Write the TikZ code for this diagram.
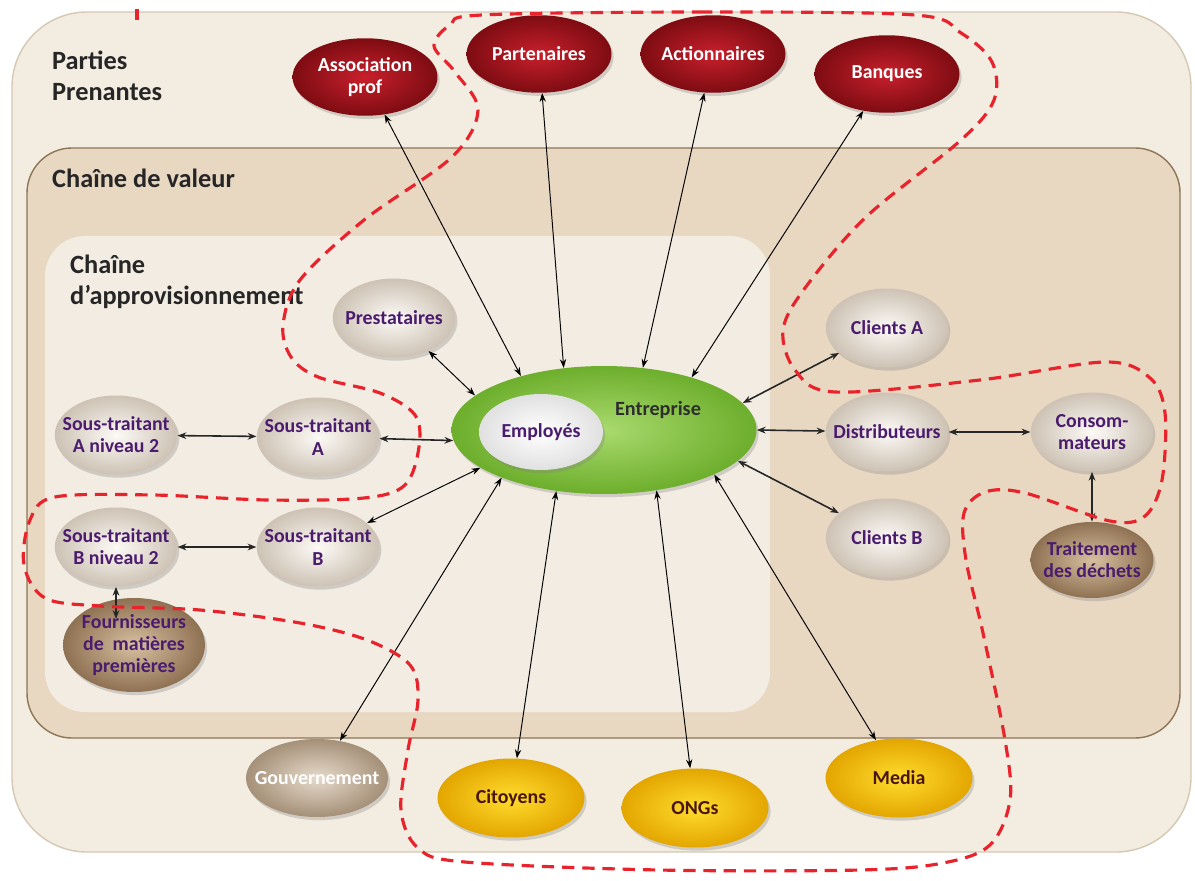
\documentclass[tikz,border=0pt]{standalone}
\usepackage{fontspec}
\setmainfont{Carlito}
\usetikzlibrary{arrows.meta,shapes.geometric,shadows,calc}
\definecolor{outerfill}{HTML}{F2ECE1}
\definecolor{outerdraw}{HTML}{D6C8B3}
\definecolor{vcfill}{HTML}{E8D8C2}
\definecolor{vcdraw}{HTML}{8E7556}
\definecolor{scfill}{HTML}{F2ECE2}
\definecolor{dashred}{HTML}{E8232B}
\definecolor{purp}{HTML}{4B1C6E}
\definecolor{redin}{HTML}{C8202C}
\definecolor{redout}{HTML}{7E0C12}
\definecolor{bgin}{HTML}{FCFAF6}
\definecolor{bgout}{HTML}{CDC2B4}
\definecolor{brin}{HTML}{D6BF9F}
\definecolor{brout}{HTML}{8E7152}
\definecolor{goin}{HTML}{E6DACB}
\definecolor{goout}{HTML}{A59078}
\definecolor{yein}{HTML}{FFDC2E}
\definecolor{yeout}{HTML}{E3A600}
\definecolor{yetext}{HTML}{4A160C}
\definecolor{grin}{HTML}{A9DA6E}
\definecolor{grout}{HTML}{6DAE2C}
\definecolor{enttext}{HTML}{2E2E2E}
\tikzset{
  base/.style={ellipse, inner sep=0pt, draw=none,
    drop shadow={opacity=0.3, shadow xshift=1.2pt, shadow yshift=-1.8pt}},
  redn/.style={base, inner color=redin, outer color=redout,
    minimum width=2.9cm, minimum height=1.55cm},
  beige/.style={base, inner color=bgin, outer color=bgout,
    minimum width=2.45cm, minimum height=1.58cm},
  brown/.style={base, inner color=brin, outer color=brout},
  gov/.style={base, inner color=goin, outer color=goout,
    minimum width=2.84cm, minimum height=1.56cm},
  yel/.style={base, inner color=yein, outer color=yeout,
    minimum width=2.94cm, minimum height=1.58cm},
  nfont/.style={font=\fontsize{11.3}{12.6}\selectfont\bfseries, align=center},
  lw/.style={nfont, text=white},
  lp/.style={nfont, text=purp},
  ly/.style={nfont, text=yetext},
  head/.style={font=\fontsize{15}{18}\selectfont\bfseries, text=black!85, align=left, anchor=west},
  dbl/.style={{Stealth[length=5pt,width=3.6pt]}-{Stealth[length=5pt,width=3.6pt]}, line width=0.55pt, black},
  dblt/.style={{Stealth[length=5pt,width=3.8pt]}-{Stealth[length=5pt,width=3.8pt]}, line width=0.9pt, black!85},
  reddash/.style={draw=dashred, line width=1.8pt, dash pattern=on 7pt off 4.5pt},
}
\begin{document}
\begin{tikzpicture}[x=0.02cm, y=-0.02cm]
\useasboundingbox (0,0) rectangle (1195,881);
% boxes
\draw[fill=outerfill, draw=outerdraw, line width=0.8pt, rounded corners=1.5cm] (12,12) rectangle (1191,852);
\draw[fill=vcfill, draw=vcdraw, line width=0.8pt, rounded corners=0.9cm] (27,148) rectangle (1180,738);
\fill[scfill, rounded corners=0.8cm] (45,236) rectangle (770,712);
% headings
\node[head] (hpp) at (46,76) {Parties\\Prenantes};
\node[head] (hcv) at (46,178) {Chaîne de valeur};
\node[head] (hca) at (64,282) {Chaîne\\d’approvisionnement};
% red stakeholders
\node[redn, label={[lw]center:Association\\prof}] (assoc) at (365,77) {};
\node[redn, label={[lw]center:Partenaires}] (part) at (539,54) {};
\node[redn, label={[lw]center:Actionnaires}] (act) at (713,54) {};
\node[redn, label={[lw]center:Banques}] (banq) at (887,74) {};
% centre
\node[base, inner color=grin, outer color=grout, minimum width=6.1cm, minimum height=2.56cm] (ent) at (604,430) {};
\node[font=\fontsize{11.5}{13}\selectfont\bfseries, text=enttext] (entlbl) at (658,410) {Entreprise};
\node[base, inner color=white, outer color=white!88!black, minimum width=2.48cm, minimum height=1.52cm,
  label={[lp]center:Employés}] (emp) at (541,432) {};
% value chain nodes
\node[beige, label={[lp]center:Prestataires}] (prest) at (394,318) {};
\node[beige, label={[lp]center:Sous-traitant\\A niveau 2}] (sta2) at (116,435) {};
\node[beige, label={[lp]center:Sous-traitant\\A}] (sta) at (318,437) {};
\node[beige, label={[lp]center:Sous-traitant\\B niveau 2}] (stb2) at (116,547) {};
\node[beige, label={[lp]center:Sous-traitant\\B}] (stb) at (318,547) {};
\node[brown, minimum width=2.84cm, minimum height=1.88cm,
  label={[lp]center:Fournisseurs\\de\ \ matières\\premières}] (fourn) at (134,645) {};
\node[beige, label={[lp]center:Clients A}] (cla) at (887,328) {};
\node[beige, label={[lp]center:Distributeurs}] (dist) at (887,432) {};
\node[beige, label={[lp]center:Consom-\\mateurs}] (cons) at (1092,432) {};
\node[beige, label={[lp]center:Clients B}] (clb) at (887,538) {};
\node[brown, minimum width=2.46cm, minimum height=1.52cm,
  label={[lp]center:Traitement\\des déchets}] (trait) at (1092,560) {};
% bottom stakeholders
\node[gov, label={[lw]center:Gouvernement}] (gouv) at (317,778) {};
\node[yel, label={[ly]center:Citoyens}] (cit) at (511,798) {};
\node[yel, label={[ly]center:ONGs}] (ong) at (695,808) {};
\node[yel, label={[ly]center:Media}] (media) at (899,778) {};
% connectors
\coordinate (fin) at ($(fourn.north)!0.45!(fourn.center)$);
\draw[dbl] (assoc) -- (ent.147);
\draw[dbl] (part) -- (ent.123);
\draw[dbl] (act) -- (ent.58);
\draw[dbl] (banq) -- (ent.31);
\draw[dbl] (prest) -- (ent.165);
\draw[dblt] (sta) -- (ent.184);
\draw[dblt] (sta2) -- (sta);
\draw[dblt] (stb2) -- (stb);
\draw[dbl] (stb) -- (ent.197);
\draw[dblt] (stb2.south) -- (stb2.south |- fin);
\draw[dbl] (ent.205) -- (gouv);
\draw[dbl] (ent.232) -- (cit);
\draw[dbl] (ent.311) -- (ong);
\draw[dbl] (ent.338) -- (media);
\draw[dblt] (ent.11) -- (cla);
\draw[dblt] (ent.0) -- (dist);
\draw[dblt] (dist) -- (cons);
\draw[dblt] (ent.347) -- (clb);
\draw[dblt] (cons) -- (trait);
% red dashed boundary
\draw[reddash] plot[smooth cycle, tension=0.55] coordinates {
 (482,15) (700,12) (915,15) (961,33) (992,62) (994,100) (961,140) (866,217)
 (805,288) (783,330) (795,370) (835,392) (980,380) (1105,362) (1150,378)
 (1165,413) (1162,480) (1145,516) (1110,521) (1025,493) (985,492) (964,513)
 (966,560) (983,633) (1005,740) (1010,800) (990,845) (943,863) (860,870)
 (659,870) (465,862) (418,848) (401,810) (408,750) (418,700) (410,665)
 (367,640) (300,623) (200,610) (100,606) (45,598) (24,565) (30,520) (55,497)
 (153,495) (268,500) (364,498) (405,485) (419,447) (415,415) (380,393)
 (318,377) (291,357) (283,325) (300,280) (364,220) (452,157) (478,110)
 (455,72) (434,46) (450,25)};
\draw[draw=dashred, line width=1.8pt] (137,9) -- (137,20);
\end{tikzpicture}
\end{document}
